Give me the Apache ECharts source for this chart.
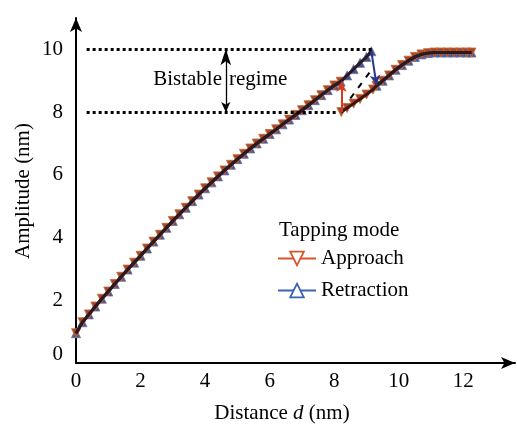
<!DOCTYPE html>
<html><head><meta charset="utf-8">
<script src="https://cdn.jsdelivr.net/npm/echarts@6/dist/echarts.min.js"></script>
<style>html,body{margin:0;padding:0;background:#fff}#c{width:517px;height:430px}</style>
</head><body><div id="c"></div><script>
// ---- data ----
const xTickLabels = [0, 2, 4, 6, 8, 10, 12];
const yTickLabels = [0, 2, 4, 6, 8, 10];
// shared branch (0 -> 8.2 nm)
const distMain = [0,0.2,0.4,0.6,0.8,1.0,1.2,1.4,1.6,1.8,2.0,2.2,2.4,2.6,2.8,3.0,3.2,3.4,3.6,3.8,4.0,4.2,4.4,4.6,4.8,5.0,5.2,5.4,5.6,5.8,6.0,6.2,6.4,6.6,6.8,7.0,7.2,7.4,7.6,7.8,8.0,8.2];
const ampMain  = [0.95,1.3,1.55,1.8,2.05,2.28,2.52,2.75,2.98,3.2,3.42,3.65,3.87,4.09,4.31,4.53,4.74,4.95,5.16,5.37,5.57,5.76,5.95,6.14,6.32,6.5,6.67,6.84,7.0,7.15,7.3,7.45,7.61,7.76,7.91,8.06,8.22,8.38,8.54,8.7,8.85,8.97];
// retraction upper branch
const distUpper = [8.4,8.6,8.8,9.0,9.15];
const ampUpper  = [9.17,9.37,9.57,9.76,9.94];
// approach lower branch
const distLower = [8.22,8.4,8.6,8.8,9.0,9.2];
const ampLower  = [8.0,8.13,8.27,8.42,8.56,8.72];
// shared right branch
const distRight = [9.31,9.5,9.7,9.9,10.1,10.3,10.5,10.7,10.9,11.1,11.3,11.5,11.7,11.9,12.1,12.25];
const ampRight  = [8.84,9.0,9.17,9.35,9.5,9.64,9.76,9.84,9.88,9.9,9.9,9.9,9.9,9.9,9.9,9.9];
// unstable (dashed) branch
const distUnstable = [8.5, 9.15];
const ampUnstable  = [8.44, 9.34];
// jumps
const jumpApproach   = [[8.22, 8.0], [8.22, 8.97]];
const jumpRetraction = [[9.15, 9.94], [9.31, 8.86]];
// bistable limits
const bistableLevels = [8, 10];
const bistableEnds   = [8.1, 9.2];
const bistableStart  = 0.33;
const bistableArrowX = 4.64;

const zip = (a, b) => a.map((v, i) => [v, b[i]]);
const approachData = [].concat(zip(distMain, ampMain), [[null, null]], zip(distLower, ampLower), zip(distRight, ampRight));
const retractionData = [].concat(zip(distMain, ampMain), zip(distUpper, ampUpper), [[null, null]], zip(distRight, ampRight));

const FONT = 'Liberation Serif';
const chart = echarts.init(document.getElementById('c'));
const axisCommon = {
  type: 'value', interval: 2,
  axisLine: { show: true, symbol: ['none', 'arrow'], symbolSize: [9, 14], lineStyle: { color: '#000', width: 2 } },
  axisTick: { show: false }, splitLine: { show: false },
};
chart.setOption({
  animation: false,
  grid: { left: 76, right: 2, top: 18, bottom: 67 },
  xAxis: Object.assign({}, axisCommon, { min: 0, max: 13.6,
    axisLabel: { fontFamily: FONT, fontSize: 21, color: '#000', margin: 8, showMaxLabel: false,
      formatter: v => xTickLabels.includes(v) ? String(v) : '' } }),
  yAxis: Object.assign({}, axisCommon, { min: 0, max: 11,
    axisLabel: { fontFamily: FONT, fontSize: 21, color: '#000', margin: 13, showMaxLabel: false,
      formatter: v => yTickLabels.includes(v) ? (v === 0 ? '{z|0}' : String(v)) : '',
      rich: { z: { fontFamily: FONT, fontSize: 21, color: '#000', padding: [0, 0, 17, 0] } } } }),
  legend: {
    orient: 'vertical', left: 272, top: 243, itemWidth: 38, itemHeight: 17, itemGap: 11,
    textStyle: { fontFamily: FONT, fontSize: 21, color: '#000' },
    data: [
      { name: 'Approach', itemStyle: { color: '#fff', borderColor: '#d9542b', borderWidth: 1.8 }, lineStyle: { color: '#d9542b', width: 2 } },
      { name: 'Retraction', itemStyle: { color: '#fff', borderColor: '#3a63b5', borderWidth: 1.8 }, lineStyle: { color: '#3a63b5', width: 2 } }
    ]
  },
  graphic: [
    { type: 'text', x: 23, y: 191, rotation: Math.PI / 2, style: { text: 'Amplitude (nm)', font: '21px "Liberation Serif"', fill: '#000', align: 'center', verticalAlign: 'middle' } },
    { type: 'text', x: 282, y: 413, style: { text: 'Distance {i|d} (nm)', font: '21px "Liberation Serif"', fill: '#000', align: 'center', verticalAlign: 'middle',
      rich: { i: { fontStyle: 'italic', fontFamily: FONT, fontSize: 21 } } } },
    { type: 'text', x: 222, y: 79, style: { text: 'Bistable', font: '21px "Liberation Serif"', fill: '#000', align: 'right', verticalAlign: 'middle' } },
    { type: 'text', x: 229, y: 79, style: { text: 'regime', font: '21px "Liberation Serif"', fill: '#000', align: 'left', verticalAlign: 'middle' } },
    { type: 'text', x: 279, y: 230, style: { text: 'Tapping mode', font: '21px "Liberation Serif"', fill: '#000', align: 'left', verticalAlign: 'middle' } }
  ],
  series: [
    { // guides
      type: 'line', data: [], silent: true,
      markLine: { silent: true, symbol: 'none', animation: false, label: { show: false },
        lineStyle: { color: '#000', width: 3, type: [3, 3] },
        data: [
          [{ coord: [bistableStart, bistableLevels[1]] }, { coord: [bistableEnds[1], bistableLevels[1]] }],
          [{ coord: [bistableStart, bistableLevels[0]] }, { coord: [bistableEnds[0], bistableLevels[0]] }],
          [{ coord: [bistableArrowX, bistableLevels[1]], symbol: 'arrow', lineStyle: { type: 'solid', width: 1.3 } },
           { coord: [bistableArrowX, bistableLevels[0]], symbol: 'arrow', symbolSize: [7, 10] }]
        ] }
    },
    { name: 'Retraction', type: 'line', data: retractionData, connectNulls: false, z: 2,
      symbol: 'triangle', symbolSize: 9, showAllSymbol: true,
      lineStyle: { width: 0 },
      itemStyle: { color: '#4a5585', borderColor: '#6673a8', borderWidth: 0.8 },
      markLine: { silent: true, symbol: ['none', 'arrow'], symbolSize: [8, 10], label: { show: false },
        lineStyle: { color: '#2a3590', width: 2, type: 'solid' },
        data: [[{ coord: jumpRetraction[0] }, { coord: jumpRetraction[1] }]] } },
    { name: 'Approach', type: 'line', data: approachData, connectNulls: false, z: 3,
      symbol: 'triangle', symbolRotate: 180, symbolSize: 9, showAllSymbol: true,
      lineStyle: { width: 0 },
      itemStyle: { color: '#a8482a', borderColor: '#c86a36', borderWidth: 0.8 },
      markLine: { silent: true, symbol: ['none', 'arrow'], symbolSize: [8, 10], label: { show: false },
        lineStyle: { color: '#d63a1e', width: 2, type: 'solid' },
        data: [[{ coord: jumpApproach[0] }, { coord: jumpApproach[1] }]] } },
    { name: 'coreA', type: 'line', data: approachData, connectNulls: false, z: 4, symbol: 'none', silent: true,
      lineStyle: { color: '#3a1610', width: 3 } },
    { name: 'coreR', type: 'line', data: retractionData, connectNulls: false, z: 4, symbol: 'none', silent: true,
      lineStyle: { color: '#2a1a24', width: 3 } },
    { name: 'unstable', type: 'line', data: zip(distUnstable, ampUnstable), symbol: 'none', z: 4,
      lineStyle: { color: '#000', width: 2, type: [6, 7] } }
  ]
});
</script></body></html>
